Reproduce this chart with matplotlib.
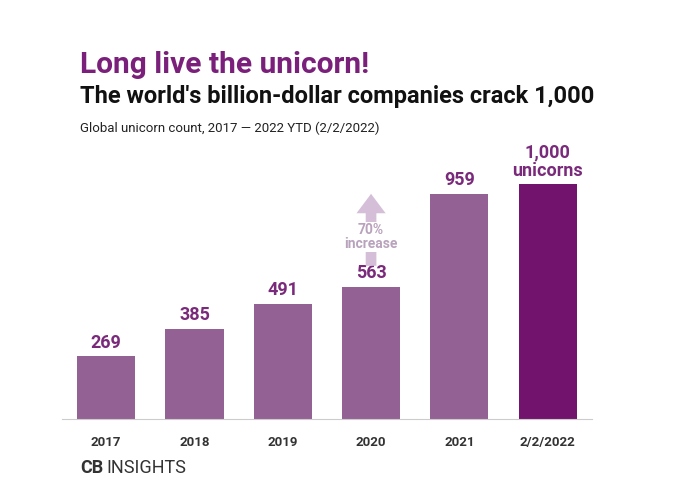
import matplotlib
matplotlib.use("Agg")
import matplotlib.pyplot as plt

categories = ["2017", "2018", "2019", "2020", "2021", "2/2/2022"]
values = [269, 385, 491, 563, 959, 1000]
labels = ["269", "385", "491", "563", "959", "1,000\nunicorns"]

W, H = 681, 491
fig = plt.figure(figsize=(W/100, H/100), dpi=100)
fig.patch.set_facecolor("white")
plt.rcParams['font.family'] = ['Roboto', 'DejaVu Sans']

left, right = 62, 62 + 6*88.3
base, top = 419, 419 - 235*1.1
ax = fig.add_axes([left/W, (H-base)/H, (right-left)/W, (base-top)/H])
x = list(range(len(categories)))
colors = ["#936193"]*5 + ["#72136e"]
ax.bar(x, values, width=0.66, color=colors)
ax.set_xlim(-0.5, 5.5)
ax.set_ylim(0, 1100)
for s in ["top", "right", "left"]:
    ax.spines[s].set_visible(False)
ax.spines["bottom"].set_color("#cccccc")
ax.set_yticks([])
ax.set_xticks(x)
ax.set_xticklabels(categories, fontsize=9.5, fontweight="bold", color="#333333")
ax.tick_params(axis="x", length=0, pad=12)
for i, (v, l) in enumerate(zip(values, labels)):
    ax.text(i, v + 18, l, ha="center", va="bottom", fontsize=13, fontweight="bold",
            color="#7a2a7a", linespacing=1.0)
ax.annotate("", xy=(3, 970), xytext=(3, 640),
            arrowprops=dict(arrowstyle="simple,head_width=1.5,head_length=1.0,tail_width=0.55",
                            mutation_scale=14, color="#d5bfd8", lw=0))
ax.text(3, 775, "70%\nincrease", ha="center", va="center", fontsize=10, fontweight="bold",
        color="#b9a3bc", linespacing=0.95,
        bbox=dict(facecolor="white", edgecolor="none", pad=1))

fig.text(80/W, 1-65/H, "Long live the unicorn!", fontsize=21.5, fontweight="bold",
         color="#7a1f7a", va="center")
fig.text(80/W, 1-97/H, "The world's billion-dollar companies crack 1,000", fontsize=17,
         fontweight="bold", color="#111111", va="center")
fig.text(80/W, 1-128/H, "Global unicorn count, 2017 — 2022 YTD (2/2/2022)", fontsize=9.5,
         color="#222222", va="center")
fig.text(80/W, 1-468/H, "CB", fontsize=13, fontweight="bold", color="#333333", va="center")
fig.text(106/W, 1-468/H, "INSIGHTS", fontsize=13, color="#333333", va="center")
fig.savefig("out.png", dpi=100)
